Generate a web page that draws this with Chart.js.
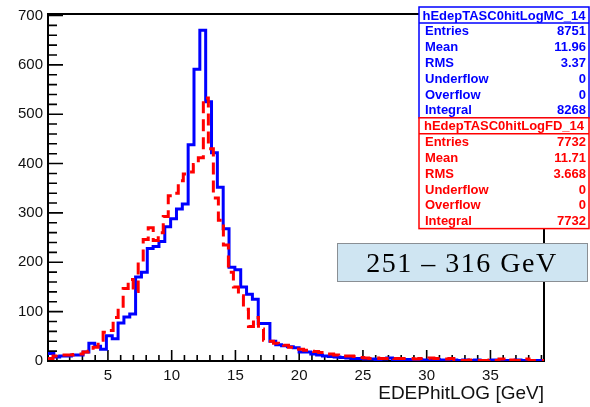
<!DOCTYPE html>
<html>
<head>
<meta charset="utf-8">
<script src="https://cdn.jsdelivr.net/npm/chart.js@4.4.1/dist/chart.umd.min.js"></script>
<style>
  html, body { margin: 0; padding: 0; background: #fff; }
</style>
</head>
<body>
<canvas id="hist" width="590" height="407"></canvas>
<script>
// x range and binning of both histograms (GeV)
const xLow = 0.3;
const xHigh = 39.2;
const mcBinWidth = 0.458;
const fdBinWidth = 0.393;
const yMax = 703;

// bin contents, MC (blue) and FD (red)
const mcCounts = [
  15, 8, 10, 10, 12, 12, 18, 36, 30, 24,
  51, 45, 77, 89, 95, 170, 180, 228, 232, 242,
  272, 288, 308, 318, 438, 591, 670, 525, 422, 352,
  268, 190, 185, 150, 135, 125, 76, 76, 40, 33,
  31, 29, 27, 18, 18, 14, 12, 10, 9, 8,
  7, 6, 5, 5, 4, 4, 3, 4, 6, 3,
  3, 3, 2, 3, 2, 2, 3, 2, 2, 2,
  1, 2, 1, 2, 1, 1, 2, 1, 1, 1,
  2, 1, 1, 1, 1
];
const fdCounts = [
  5, 10, 12, 12, 12, 13, 14, 18, 20, 28,
  42, 58, 62, 88, 111, 147, 165, 141, 200, 246,
  270, 244, 260, 293, 335, 340, 365, 379, 383, 398,
  412, 533, 430, 330, 285, 235, 180, 150, 132, 105,
  70, 88, 65, 42, 40, 36, 35, 32, 28, 28,
  24, 22, 20, 19, 17, 14, 14, 12, 11, 10,
  10, 9, 7, 6, 5, 6, 5, 5, 6, 5,
  5, 5, 5, 4, 5, 5, 6, 5, 5, 4,
  5, 2, 1, 1, 2, 1, 1, 1, 2, 1,
  4, 1, 2, 1, 1, 4, 1, 1, 1
];

const xTicks = [5, 10, 15, 20, 25, 30, 35];
const yTicks = [0, 100, 200, 300, 400, 500, 600, 700];
const xMinorStep = 1;
const yMinorStep = 20;

// stats boxes
const statNames = ["Entries", "Mean", "RMS", "Underflow", "Overflow", "Integral"];
const mcTitle = "hEdepTASC0hitLogMC_14";
const mcStats = ["8751", "11.96", "3.37", "0", "0", "8268"];
const fdTitle = "hEdepTASC0hitLogFD_14";
const fdStats = ["7732", "11.71", "3.668", "0", "0", "7732"];
const energyLabel = "251 \u2013 316 GeV";

// turn bin contents into step points (low edge of each bin + closing edge)
function histPoints(counts, width) {
  const pts = counts.map((c, i) => ({x: xLow + i * width, y: c}));
  pts.push({x: xLow + counts.length * width, y: counts[counts.length - 1]});
  return pts;
}

// ROOT style frame with inward ticks
const rootFrame = {
  id: 'rootFrame',
  beforeDatasetsDraw(chart) {
    const {ctx, chartArea: a, scales: {x, y}} = chart;
    ctx.save();
    ctx.strokeStyle = '#000';
    ctx.lineWidth = 2;
    ctx.strokeRect(a.left, a.top, a.right - a.left, a.bottom - a.top);
    ctx.lineWidth = 1.6;
    ctx.beginPath();
    for (let v = 0; v <= 700; v += yMinorStep) {
      const py = y.getPixelForValue(v);
      const len = v % 100 === 0 ? 15 : 9;
      ctx.moveTo(a.left, py);
      ctx.lineTo(a.left + len, py);
    }
    for (let v = 1; v <= 39; v += xMinorStep) {
      const px = x.getPixelForValue(v);
      const len = v % 5 === 0 ? 11 : 6;
      ctx.moveTo(px, a.bottom);
      ctx.lineTo(px, a.bottom - len);
    }
    ctx.stroke();
    ctx.restore();
  }
};

function drawStatBox(ctx, top, color, title, values) {
  const left = 419, right = 589, titleH = 16, rowH = 15.8;
  const bottom = top + titleH + rowH * statNames.length;
  ctx.fillStyle = '#fff';
  ctx.fillRect(left, top, right - left, bottom - top);
  ctx.strokeStyle = color;
  ctx.lineWidth = 1.5;
  ctx.strokeRect(left, top, right - left, bottom - top);
  ctx.beginPath();
  ctx.moveTo(left, top + titleH);
  ctx.lineTo(right, top + titleH);
  ctx.stroke();
  ctx.fillStyle = color;
  ctx.font = 'bold 13px "Liberation Sans"';
  ctx.textBaseline = 'middle';
  ctx.textAlign = 'center';
  ctx.fillText(title, (left + right) / 2, top + titleH / 2 + 1);
  statNames.forEach((name, i) => {
    const cy = top + titleH + rowH * (i + 0.5) + 1;
    ctx.textAlign = 'left';
    ctx.fillText(name, left + 6, cy);
    ctx.textAlign = 'right';
    ctx.fillText(values[i], right - 3, cy);
  });
  return bottom;
}

const overlays = {
  id: 'overlays',
  afterDraw(chart) {
    const ctx = chart.ctx;
    ctx.save();
    const b = drawStatBox(ctx, 7, '#0000ff', mcTitle, mcStats);
    drawStatBox(ctx, b, '#ff0000', fdTitle, fdStats);
    // energy range label
    ctx.fillStyle = '#cfe5f2';
    ctx.fillRect(337, 243, 250, 38);
    ctx.strokeStyle = '#8a8f94';
    ctx.lineWidth = 1;
    ctx.strokeRect(337.5, 243.5, 250, 38);
    ctx.fillStyle = '#000';
    ctx.font = '28px "Liberation Serif"';
    ctx.textAlign = 'center';
    ctx.textBaseline = 'alphabetic';
    ctx.letterSpacing = '1.5px';
    ctx.fillText(energyLabel, 462, 272);
    ctx.restore();
  }
};

new Chart(document.getElementById('hist'), {
  type: 'line',
  data: {
    datasets: [
      {
        label: 'FD',
        data: histPoints(fdCounts, fdBinWidth),
        borderColor: '#ff0000',
        borderWidth: 3,
        borderDash: [12, 6],
        stepped: 'before',
        pointRadius: 0,
        fill: false
      },
      {
        label: 'MC',
        data: histPoints(mcCounts, mcBinWidth),
        borderColor: '#0000ff',
        borderWidth: 3,
        stepped: 'before',
        pointRadius: 0,
        fill: false
      }
    ]
  },
  options: {
    responsive: false,
    animation: false,
    devicePixelRatio: 1,
    layout: { padding: { top: 7, right: 46, bottom: 0, left: 0 } },
    plugins: { legend: { display: false }, tooltip: { enabled: false } },
    scales: {
      x: {
        type: 'linear',
        min: xLow,
        max: xHigh,
        grid: { display: false, drawTicks: false },
        border: { display: false },
        ticks: { font: { family: 'Liberation Sans', size: 15 }, color: '#111', padding: 6, maxRotation: 0 },
        afterBuildTicks: s => { s.ticks = xTicks.map(v => ({value: v})); },
        afterFit: s => { s.height = 46; },
        title: {
          display: true,
          text: 'EDEPhitLOG [GeV]',
          align: 'end',
          color: '#111',
          font: { family: 'Liberation Sans', size: 19 },
          padding: { top: 0, bottom: 2 }
        }
      },
      y: {
        min: 0,
        max: yMax,
        grid: { display: false, drawTicks: false },
        border: { display: false },
        ticks: { font: { family: 'Liberation Sans', size: 15 }, color: '#111', padding: 5 },
        afterBuildTicks: s => { s.ticks = yTicks.map(v => ({value: v})); },
        afterFit: s => { s.width = 48; }
      }
    }
  },
  plugins: [rootFrame, overlays]
});
</script>
</body>
</html>
